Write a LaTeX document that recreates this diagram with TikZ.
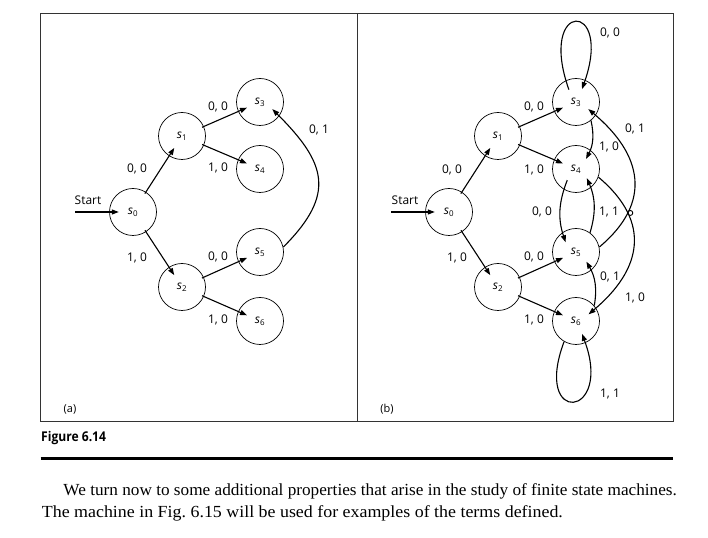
\documentclass[tikz,border=0pt]{standalone}
\usepackage{fontspec}
\setmainfont{Open Sans}
\newfontfamily\bodyfont{Liberation Serif}
\usetikzlibrary{arrows.meta, intersections}

\begin{document}
\begin{tikzpicture}[x=1bp, y=1bp,
    state/.style={draw, circle, line width=0.7bp, minimum size=47bp, inner sep=0pt},
    core/.style={circle, minimum size=28bp, inner sep=0pt, font=\fontsize{12}{12}\selectfont},
    arr/.style={line width=1.1bp, -{Triangle[length=7bp, width=5bp]}},
    lbl/.style={inner sep=0pt, font=\fontsize{12}{12}\selectfont}]
  \useasboundingbox (0,0) rectangle (708,538);
  % frame
  \draw[line width=0.8bp, black!80] (40.7,116.3) rectangle (673.3,524.7);
  \draw[line width=0.8bp, black!80] (357,116.3) -- (357,524.7);
  \node[lbl, font=\fontsize{11}{11}\selectfont] (tagA) at (70,129) {(a)};
  \node[lbl, font=\fontsize{11}{11}\selectfont] (tagB) at (387,129) {(b)};

  % states of both machines
  \foreach \p/\dx in {a/0, b/316} {
    \foreach \i/\x/\y in {0/133/326, 1/182/402, 2/182/251, 3/260/436, 4/260/369, 5/260/286, 6/260/217} {
      \node[state] (\p\i) at (\x+\dx,\y) {};
      \node[core] (\p\i c) at (\x+\dx,\y) {\textit{s}\textsubscript{\i}};
    }
  }

  \coordinate (aS) at (75,326);
  \coordinate (bS) at (391,326);
  \node[lbl] (startA) at (88,338) {Start};
  \node[lbl] (startB) at (405,338) {Start};

  \foreach \p in {a,b} {
    \draw[arr] (\p S) -- (\p0c);
    \draw[arr, shorten <=-2bp] (\p0) -- (\p1c);
    \draw[arr, shorten <=-2bp] (\p0) -- (\p2c);
    \draw[arr, shorten <=-2bp] (\p1) -- (\p3c);
    \draw[arr, shorten <=-2bp] (\p1) -- (\p4c);
    \draw[arr, shorten <=-2bp] (\p2) -- (\p5c);
    \draw[arr, shorten <=-2bp] (\p2) -- (\p6c);
  }

  % (a)
  \draw[arr] (a5.12) to[out=45, in=-45, looseness=1.4] (a3c.-30);

  % (b)
  \draw[arr] (b3c.120) .. controls +(-32,90) and +(32,90) .. (b3c.65);
  \draw[arr] (b6.-120) .. controls +(-32,-85) and +(32,-85) .. (b6c.-65);
  \draw[arr] (b3.-51) to[bend left=20] (b4c.45);
  \draw[arr] (b4c.-128) to[bend right=20] (b5c.137);
  \draw[arr] (b5.54) to[bend right=20] (b4c.-40);
  \draw[arr] (b6.40) to[bend right=20] (b5c.-43);
  \draw[arr, name path=up] (b5.12) to[out=40, in=-40, looseness=1.3] (b3c.-30);
  \draw[arr, name path=down] (b4.-20) to[out=-40, in=40, looseness=1.3] (b6c.28);
  \path[name intersections={of=up and down, by=hop}];
  \draw[line width=0.9bp] ([xshift=2.5bp]hop) circle[radius=2.5bp];

  \foreach \n/\x/\y/\t in {a01/137/369/{0, 0}, a02/137/280/{1, 0}, a13/218/431/{0, 0},
      a14/218/370/{1, 0}, a25/218/281/{0, 0}, a26/218/218/{1, 0}, a53/319/408/{0, 1},
      b01/452/368/{0, 0}, b02/457/280/{1, 0}, b13/534/431/{0, 0}, b14/534/368/{1, 0},
      b25/534/281/{0, 0}, b26/534/218/{1, 0}, b33/610/505/{0, 0}, b34/609/391/{1, 0},
      b53/635/409/{0, 1}, b45/542/326/{0, 0}, b54/609/326/{1, 1}, b65/610/261/{0, 1},
      b46/635/240/{1, 0}, b66/610/144/{1, 1}} {
    \node[lbl] (\n) at (\x,\y) {\t};
  }

  % caption and running text
  \node[anchor=west, inner sep=0pt, font=\fontsize{13.5}{13.5}\selectfont\bfseries] (figcap) at (41,100) {\scalebox{0.9}[1]{Figure 6.14}};
  \draw[line width=3.5bp] (40.7,79.7) -- (673.3,79.7);
  \node[anchor=base west, inner sep=0pt, font=\bodyfont\fontsize{17}{20}\selectfont] (line1) at (63.3,42.3)
    {\resizebox{613.4bp}{\height}{We turn now to some additional properties that arise in the study of finite state machines.}};
  \node[anchor=base west, inner sep=0pt, font=\bodyfont\fontsize{17}{20}\selectfont] (line2) at (41.7,20)
    {\resizebox{521bp}{\height}{The machine in Fig.~6.15 will be used for examples of the terms defined.}};
\end{tikzpicture}
\end{document}
